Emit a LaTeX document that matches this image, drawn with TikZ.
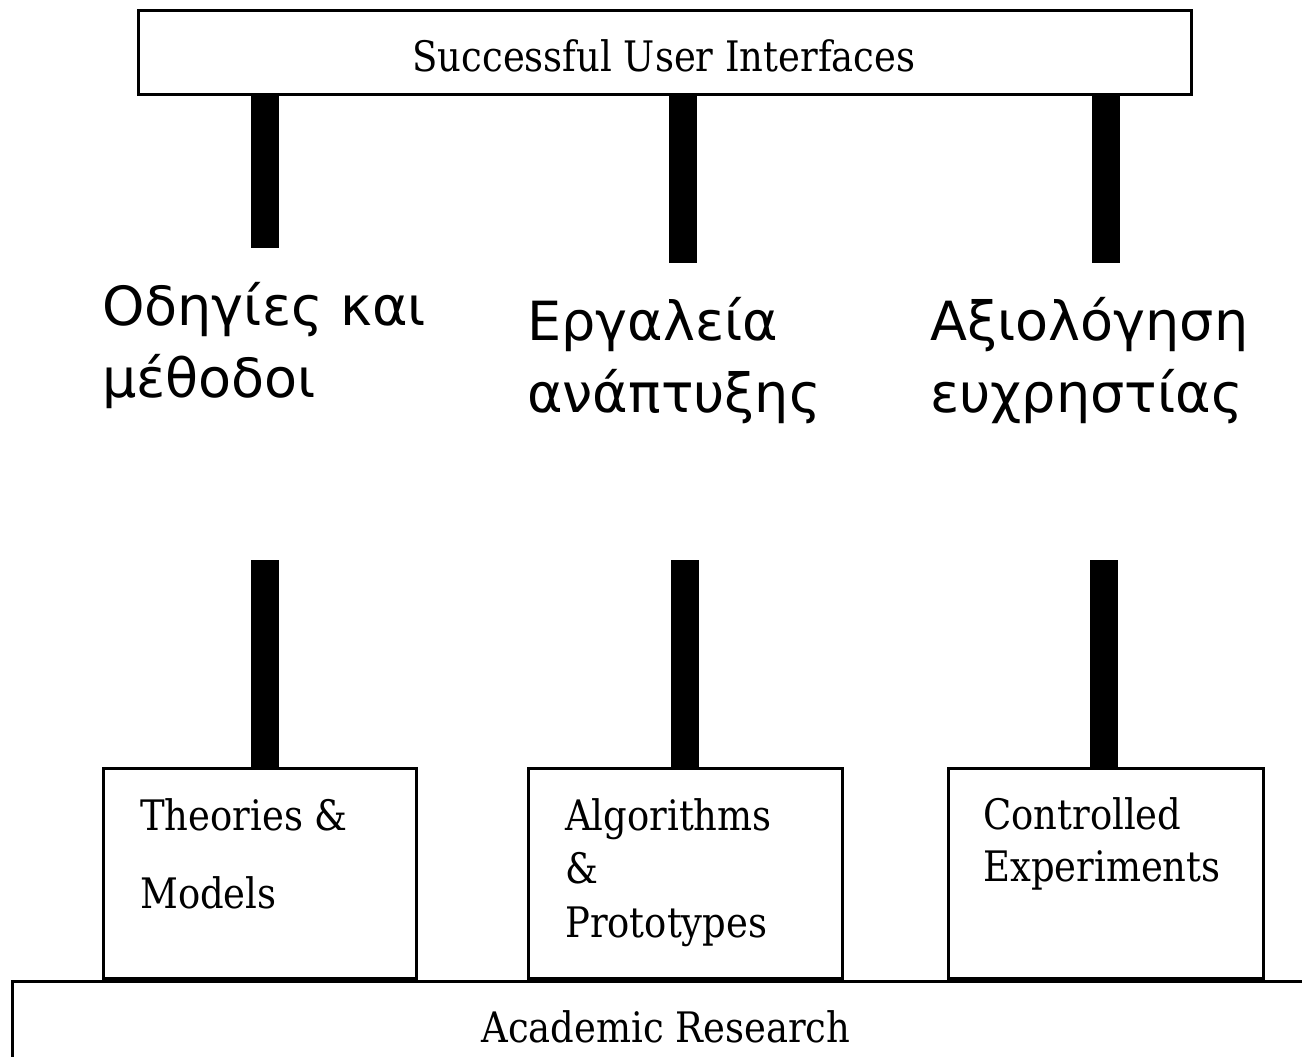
\documentclass[tikz,border=0pt]{standalone}
\usepackage{fontspec}
\newfontfamily\grkfont{DejaVu Sans}
\newfontfamily\slabfont[FakeStretch=0.88]{DejaVu Serif}
\begin{document}
\begin{tikzpicture}[x=1pt,y=-1pt,
  frame/.style={draw=black,line width=3pt,fill=white,inner sep=0pt},
  post/.style={draw=black,line width=28pt},
  grk/.style={font=\grkfont\fontsize{54}{72}\selectfont,anchor=base west,inner sep=0pt},
  slab/.style={font=\slabfont\fontsize{42}{52}\selectfont,anchor=base west,inner sep=0pt}]
\useasboundingbox (0,0) rectangle (1302,1057);
\clip (0,0) rectangle (1302,1057);

% top banner
\node[frame,minimum width=1053pt,minimum height=84pt] (top) at (664.5,53) {};
\node[slab,anchor=base] (toptext) at (664,72) {Successful User Interfaces};

% middle labels (Greek)
\node[grk] (g1a) at (102,325) {Οδηγίες και};
\node[grk] (g1b) at (102,397) {μέθοδοι};
\node[grk] (g2a) at (527,340) {Εργαλεία};
\node[grk] (g2b) at (527,412) {ανάπτυξης};
\node[grk] (g3a) at (930,340) {Αξιολόγηση};
\node[grk] (g3b) at (930,412) {ευχρηστίας};

% posts hanging from the banner
\coordinate (e1) at (265,248);
\coordinate (e2) at (683,263);
\coordinate (e3) at (1106,263);
\draw[post] (top.south -| e1) -- (e1);
\draw[post] (top.south -| e2) -- (e2);
\draw[post] (top.south -| e3) -- (e3);

% base bar
\node[frame,minimum width=1308pt,minimum height=140pt] (base) at (666,1051) {};
\node[slab,anchor=base] (acad) at (666,1042) {Academic Research};

% research boxes
\node[frame,minimum width=313pt,minimum height=210pt] (b1) at (259.5,873) {};
\node[frame,minimum width=314pt,minimum height=210pt] (b2) at (685,873) {};
\node[frame,minimum width=315pt,minimum height=210pt] (b3) at (1105.5,873) {};

% posts rising from the boxes
\coordinate (s1) at (265,560);
\coordinate (s2) at (685,560);
\coordinate (s3) at (1104,560);
\draw[post] (s1) -- (s1 |- b1.north);
\draw[post] (s2) -- (s2 |- b2.north);
\draw[post] (s3) -- (s3 |- b3.north);

% box texts
\node[slab] (t1a) at (140,830) {Theories \&};
\node[slab] (t1b) at (140,908) {Models};
\node[slab] (t2a) at (565,830) {Algorithms};
\node[slab] (t2b) at (565,883) {\&};
\node[slab] (t2c) at (565,937) {Prototypes};
\node[slab] (t3a) at (983,829) {Controlled};
\node[slab] (t3b) at (983,881) {Experiments};
\end{tikzpicture}
\end{document}
